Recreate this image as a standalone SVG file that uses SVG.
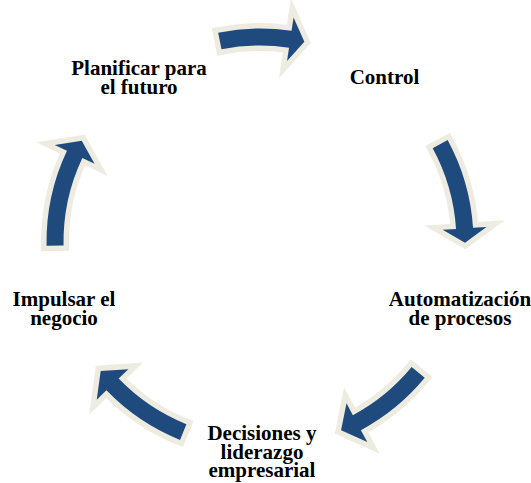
<svg xmlns="http://www.w3.org/2000/svg" width="531" height="483" viewBox="0 0 531 483">
<style>
.arr{fill:#1F4A7E;stroke:#EEECE1;stroke-width:11;paint-order:stroke;stroke-linejoin:miter}
.lbl{font-family:"Liberation Serif","Times New Roman",serif;font-weight:bold;font-size:21px;fill:#000;text-anchor:middle}
</style>
<rect width="531" height="483" fill="#fff"/>
<g id="connectors">
<path id="arrow1" class="arr" d="M218.17,32.64 A213.5,213.5 0 0 1 291.56,30.85 L293.55,17.5 L304.36,41.86 L287.05,61.01 L289.04,47.66 A196.5,196.5 0 0 0 221.51,49.31 Z"/>
<path id="arrow2" class="arr" d="M447.62,140.12 A213.5,213.5 0 0 1 473.03,227.84 L486.5,226.95 L465,242.72 L442.6,229.87 L456.07,228.97 A196.5,196.5 0 0 0 432.68,148.23 Z"/>
<path id="arrow3" class="arr" d="M424.74,377.81 A213.5,213.5 0 0 1 360.9,430.16 L367.28,442.06 L341.08,430.27 L346.49,403.28 L352.87,415.18 A196.5,196.5 0 0 0 411.62,366.99 Z"/>
<path id="arrow4" class="arr" d="M180.02,439.96 A213.5,213.5 0 0 1 106.43,390.32 L96.72,399.7 L100.69,371.01 L128.37,369.13 L118.66,378.51 A196.5,196.5 0 0 0 186.39,424.19 Z"/>
<path id="arrow5" class="arr" d="M46.54,245.73 A213.5,213.5 0 0 1 66.97,150.75 L54.77,144.98 L81.75,140.75 L94.55,163.79 L82.34,158.02 A196.5,196.5 0 0 0 63.54,245.43 Z"/>
</g>
<g id="node-planificar"><text class="lbl" x="139" y="75">Planificar para</text><text class="lbl" x="139" y="93.5">el futuro</text></g>
<g id="node-control"><text class="lbl" x="384.5" y="84">Control</text></g>
<g id="node-automatizacion"><text class="lbl" x="460" y="306">Automatización</text><text class="lbl" x="460" y="325">de procesos</text></g>
<g id="node-decisiones"><text class="lbl" x="262" y="440">Decisiones y</text><text class="lbl" x="262" y="458.5">liderazgo</text><text class="lbl" x="262" y="477">empresarial</text></g>
<g id="node-impulsar"><text class="lbl" x="64" y="306">Impulsar el</text><text class="lbl" x="64" y="325">negocio</text></g>
</svg>
